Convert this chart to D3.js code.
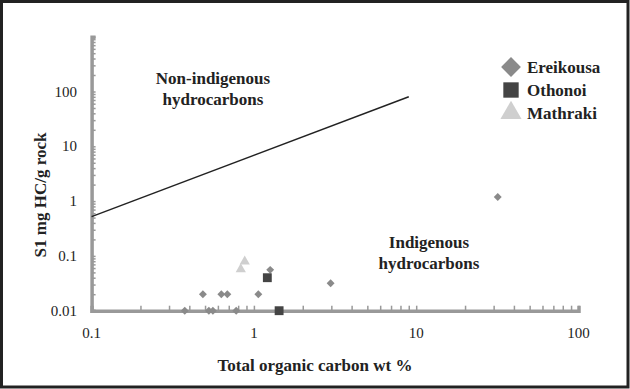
<!DOCTYPE html>
<html>
<head>
<meta charset="utf-8">
<script src="https://cdn.jsdelivr.net/npm/d3@7"></script>
<style>
  body { margin: 0; background: #fff; }
  svg text { font-family: "Liberation Serif", "Times New Roman", serif; }
</style>
</head>
<body>
<svg id="chart" width="630" height="389"></svg>
<script>
// TOC (wt %) vs S1 (mg HC/g rock)
const ereikousa = [
    [0.375, 0.01], [0.485, 0.02], [0.528, 0.01], [0.559, 0.01], [0.63, 0.02],
    [0.686, 0.02], [0.778, 0.01], [1.065, 0.02], [1.26, 0.0556], [2.97, 0.0318],
    [31.8, 1.19]
];
const othonoi = [[1.21, 0.040], [1.43, 0.01]];
const mathraki = [[0.83, 0.057], [0.878, 0.079]];
const divideLine = [[0.1, 0.52], [9, 80]];

const xMajor = [0.1, 1, 10, 100];
const yMajor = [0.01, 0.1, 1, 10, 100];

const svg = d3.select("#chart");

const x = d3.scaleLog().domain([0.1, 100]).range([91.6, 578.5]);
const y = d3.scaleLog().domain([0.01, 1000]).range([310.7, 36.7]);

// frame
svg.append("rect")
    .attr("x", 1.5).attr("y", 1.5).attr("width", 626.5).attr("height", 385.5)
    .attr("fill", "none").attr("stroke", "#222").attr("stroke-width", 3);

// minor + major tick values
function logTicks(lo, hi) {
    const out = [];
    for (let e = Math.log10(lo); e < Math.log10(hi); e++) {
        for (let m = 1; m < 10; m++) out.push(m * Math.pow(10, e));
    }
    out.push(hi);
    return out;
}

const axisColor = "#999";

const gx = svg.append("g").attr("transform", `translate(0,${y(0.01)})`)
    .call(d3.axisBottom(x).tickValues(logTicks(0.1, 100)).tickSize(-5).tickFormat(""));
const gy = svg.append("g").attr("transform", `translate(${x(0.1)},0)`)
    .call(d3.axisLeft(y).tickValues(logTicks(0.01, 1000)).tickSize(-4).tickFormat(""));

[gx, gy].forEach(g => {
    g.select(".domain").attr("stroke", axisColor).attr("stroke-width", 3.5);
    g.selectAll(".tick line").attr("stroke", axisColor).attr("stroke-width", 1.5);
});

// tick labels
svg.append("g").selectAll("text")
    .data(xMajor)
    .join("text")
    .attr("x", d => x(d))
    .attr("y", 338)
    .attr("text-anchor", "middle")
    .attr("font-size", 15)
    .attr("fill", "#222")
    .text(d => d);

svg.append("g").selectAll("text")
    .data(yMajor)
    .join("text")
    .attr("x", 77)
    .attr("y", d => y(d) + 5)
    .attr("text-anchor", "end")
    .attr("font-size", 15)
    .attr("fill", "#222")
    .text(d => d);

// axis titles
svg.append("text")
    .attr("x", 315).attr("y", 371)
    .attr("text-anchor", "middle").attr("font-size", 17).attr("font-weight", "bold")
    .attr("fill", "#222")
    .text("Total organic carbon wt %");

svg.append("text")
    .attr("transform", "translate(46,195) rotate(-90)")
    .attr("text-anchor", "middle").attr("font-size", 17).attr("font-weight", "bold")
    .attr("fill", "#222")
    .text("S1 mg HC/g rock");

// dividing line
svg.append("path")
    .attr("d", d3.line().x(d => x(d[0])).y(d => y(d[1]))(divideLine))
    .attr("fill", "none").attr("stroke", "#222").attr("stroke-width", 1.5);

// region labels
const regionLabels = [
    { lines: ["Non-indigenous", "hydrocarbons"], cx: 213, cy: 84 },
    { lines: ["Indigenous", "hydrocarbons"], cx: 429, cy: 248 }
];
regionLabels.forEach(r => {
    r.lines.forEach((t, i) => {
        svg.append("text")
            .attr("x", r.cx).attr("y", r.cy + i * 21)
            .attr("text-anchor", "middle").attr("font-size", 17).attr("font-weight", "bold")
            .attr("fill", "#222")
            .text(t);
    });
});

// points
const sym = {
    diamond: d3.symbol().type(d3.symbolDiamond2),
    square: d3.symbol().type(d3.symbolSquare2),
    triangle: d3.symbol().type(d3.symbolTriangle2)
};

svg.append("g").selectAll("path")
    .data(ereikousa)
    .join("path")
    .attr("transform", d => `translate(${x(d[0])},${y(d[1])})`)
    .attr("d", sym.diamond.size(40)())
    .attr("fill", "#8a8a8a");

svg.append("g").selectAll("path")
    .data(mathraki)
    .join("path")
    .attr("transform", d => `translate(${x(d[0])},${y(d[1])})`)
    .attr("d", sym.triangle.size(75)())
    .attr("fill", "#cfcfcf");

svg.append("g").selectAll("path")
    .data(othonoi)
    .join("path")
    .attr("transform", d => `translate(${x(d[0])},${y(d[1])})`)
    .attr("d", sym.square.size(100)())
    .attr("fill", "#444");

// legend
const legend = [
    { name: "Ereikousa", type: "diamond", color: "#8a8a8a", size: 250 },
    { name: "Othonoi", type: "square", color: "#444", size: 300 },
    { name: "Mathraki", type: "triangle", color: "#cfcfcf", size: 320 }
];
const lg = svg.append("g").selectAll("g")
    .data(legend)
    .join("g")
    .attr("transform", (d, i) => `translate(511,${67 + i * 23})`);
lg.append("path")
    .attr("d", d => sym[d.type].size(d.size)())
    .attr("fill", d => d.color);
lg.append("text")
    .attr("x", 16).attr("y", 6)
    .attr("font-size", 17).attr("font-weight", "bold").attr("fill", "#222")
    .text(d => d.name);
</script>
</body>
</html>
